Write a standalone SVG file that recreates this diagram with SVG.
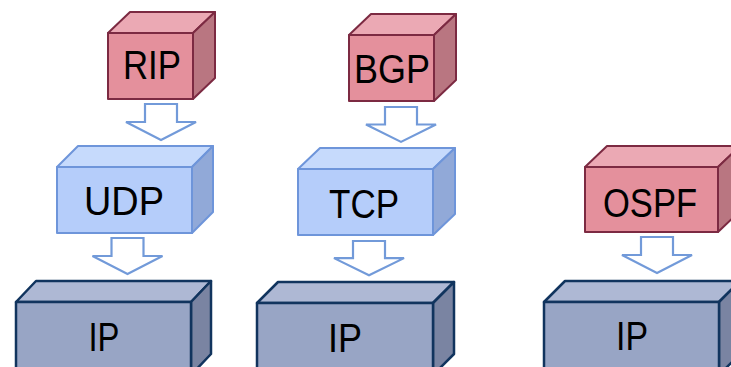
<svg xmlns="http://www.w3.org/2000/svg" width="731" height="367" viewBox="0 0 731 367">
<defs>
<style>
.lbl{font-family:"Liberation Sans",Arial,sans-serif;font-size:40px;fill:#000;text-anchor:middle}
.pk .f{fill:#E4909C}.pk .t{fill:#EBA9B4}.pk .r{fill:#B97681}
.pk path{stroke:#7C2A42;stroke-width:2;stroke-linejoin:round}
.bl .f{fill:#B5CDFA}.bl .t{fill:#C6DAFC}.bl .r{fill:#91A9D8}
.bl path{stroke:#6E95DA;stroke-width:2;stroke-linejoin:round}
.nv .f{fill:#98A5C5}.nv .t{fill:#AEB8D4}.nv .r{fill:#7A84A2}
.nv path{stroke:#11345E;stroke-width:2.5;stroke-linejoin:round}
.arr{fill:#fff;stroke:#729AD9;stroke-width:2.2;stroke-linejoin:miter}
</style>
<path id="arrow" class="arr" d="M-16,0 L16,0 L16,18 L35,18 L0,36 L-35,18 L-16,18 Z"/>
</defs>
<rect width="731" height="367" fill="#fff"/>
<g id="connectors">
<use href="#arrow" transform="translate(161,104)"/>
<use href="#arrow" transform="translate(127.5,238)"/>
<use href="#arrow" transform="translate(401,107) scale(1,0.97)"/>
<use href="#arrow" transform="translate(369,241) scale(1,0.95)"/>
<use href="#arrow" transform="translate(657,237)"/>
</g>
<g id="rip" class="pk">
<path class="t" d="M108,33 L130,12 L215,12 L193,33 Z"/>
<path class="r" d="M193,33 L215,12 L215,78 L193,99 Z"/>
<path class="f" d="M108,33 H193 V99 H108 Z"/>
<text class="lbl" x="152" y="79" textLength="58" lengthAdjust="spacingAndGlyphs">RIP</text>
</g>
<g id="bgp" class="pk">
<path class="t" d="M349,35 L371,14 L456,14 L434,35 Z"/>
<path class="r" d="M434,35 L456,14 L456,80 L434,101 Z"/>
<path class="f" d="M349,35 H434 V101 H349 Z"/>
<text class="lbl" x="392" y="83" textLength="76" lengthAdjust="spacingAndGlyphs">BGP</text>
</g>
<g id="udp" class="bl">
<path class="t" d="M57,167 L78,146 L213,146 L192,167 Z"/>
<path class="r" d="M192,167 L213,146 L213,212 L192,233 Z"/>
<path class="f" d="M57,167 H192 V233 H57 Z"/>
<text class="lbl" x="124" y="215" textLength="80" lengthAdjust="spacingAndGlyphs">UDP</text>
</g>
<g id="tcp" class="bl">
<path class="t" d="M298,169 L320,148 L455,148 L433,169 Z"/>
<path class="r" d="M433,169 L455,148 L455,214 L433,235 Z"/>
<path class="f" d="M298,169 H433 V235 H298 Z"/>
<text class="lbl" x="364" y="218" textLength="70" lengthAdjust="spacingAndGlyphs">TCP</text>
</g>
<g id="ospf" class="pk">
<path class="t" d="M585,167 L607,146 L740,146 L718,167 Z"/>
<path class="r" d="M718,167 L740,146 L740,211 L718,232 Z"/>
<path class="f" d="M585,167 H718 V232 H585 Z"/>
<text class="lbl" x="650" y="217" textLength="94" lengthAdjust="spacingAndGlyphs">OSPF</text>
</g>
<g id="ip1" class="nv">
<path class="t" d="M16,302 L36,281 L211,281 L191,302 Z"/>
<path class="r" d="M191,302 L211,281 L211,354 L191,375 Z"/>
<path class="f" d="M16,302 H191 V375 H16 Z"/>
<text class="lbl" x="104" y="351" textLength="31" lengthAdjust="spacingAndGlyphs">IP</text>
</g>
<g id="ip2" class="nv">
<path class="t" d="M257,303 L278,282 L454,282 L433,303 Z"/>
<path class="r" d="M433,303 L454,282 L454,354 L433,375 Z"/>
<path class="f" d="M257,303 H433 V375 H257 Z"/>
<text class="lbl" x="345" y="352" textLength="34" lengthAdjust="spacingAndGlyphs">IP</text>
</g>
<g id="ip3" class="nv">
<path class="t" d="M544,302 L565,281 L740,281 L719,302 Z"/>
<path class="r" d="M719,302 L740,281 L740,354 L719,375 Z"/>
<path class="f" d="M544,302 H719 V375 H544 Z"/>
<text class="lbl" x="632" y="350" textLength="32" lengthAdjust="spacingAndGlyphs">IP</text>
</g>
</svg>
